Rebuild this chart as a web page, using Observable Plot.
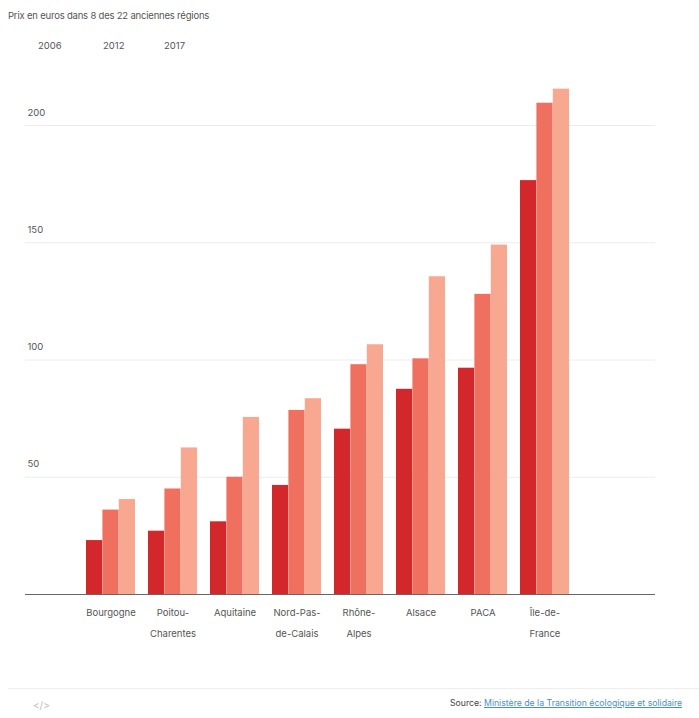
<!DOCTYPE html>
<html>
<head>
<meta charset="utf-8">
<script src="https://cdn.jsdelivr.net/npm/d3@7"></script>
<script src="https://cdn.jsdelivr.net/npm/@observablehq/plot@0.6"></script>
<style>
  body { margin: 0; background: #fff; font-family: "Inter", "Liberation Sans", sans-serif; width: 699px; overflow: hidden; }
  #title { position: absolute; left: 8px; top: 10px; font-size: 9.5px; color: #555; letter-spacing: -0.2px; }
  #legend { position: absolute; left: 0; top: 40px; font-size: 9.5px; color: #555; }
  #legend span { position: absolute; white-space: nowrap; }
  #chart { position: absolute; left: 0; top: 60px; }
  #footer-line { position: absolute; left: 8px; right: 0; top: 688px; height: 1px; background: #eee; }
  #code { position: absolute; left: 33px; top: 699px; font-size: 10px; color: #bbb; }
  #source { position: absolute; left: 450px; top: 698px; font-size: 8.7px; color: #444; white-space: nowrap; }
  #source a { color: #4a90c8; text-decoration: underline; }
</style>
</head>
<body>
<div id="title">Prix en euros dans 8 des 22 anciennes régions</div>
<div id="legend"></div>
<div id="chart"></div>
<div id="footer-line"></div>
<div id="code">&lt;/&gt;</div>
<div id="source">Source: <a href="#">Ministère de la Transition écologique et solidaire</a></div>
<script>
const regions = ["Bourgogne", "Poitou-Charentes", "Aquitaine", "Nord-Pas-de-Calais", "Rhône-Alpes", "Alsace", "PACA", "Île-de-France"];
const regionLabels = ["Bourgogne", "Poitou-\nCharentes", "Aquitaine", "Nord-Pas-\nde-Calais", "Rhône-\nAlpes", "Alsace", "PACA", "Île-de-\nFrance"];
const years = ["2006", "2012", "2017"];
const values2006 = [23, 27, 31, 46.5, 70.5, 87.5, 96.5, 176.5];
const values2012 = [36, 45, 50, 78.5, 98, 100.5, 128, 209.5];
const values2017 = [40.5, 62.5, 75.5, 83.5, 106.5, 135.5, 149, 215.5];
const yTicks = [50, 100, 150, 200];
const colors = ["#d2282c", "#f0705f", "#f8a890"];

const series = [values2006, values2012, values2017];
const data = [];
years.forEach((yr, j) => regions.forEach((r, i) => data.push({region: r, year: yr, value: series[j][i]})));

// legend (text only)
const legend = document.getElementById("legend");
const legendX = [38, 103, 164];
years.forEach((y, j) => {
  const s = document.createElement("span");
  s.textContent = y;
  s.style.left = legendX[j] + "px";
  legend.appendChild(s);
});

const barW = 16.4;
const barMarks = years.map((yr, j) => Plot.barY(data.filter(d => d.year === yr), {
  x: "region",
  y: "value",
  fill: colors[j],
  insetLeft: j * barW,
  insetRight: (2 - j) * barW
}));

const plot = Plot.plot({
  width: 699,
  height: 600,
  marginLeft: 25,
  marginRight: 44,
  marginTop: 0,
  marginBottom: 0,
  style: {fontFamily: "Inter, 'Liberation Sans', sans-serif", background: "transparent", color: "#555"},
  x: {type: "band", domain: regions, range: [84, 571], paddingInner: 0.215, paddingOuter: 0, axis: null},
  y: {domain: [0, 200], range: [534, 65], axis: null},
  marks: [
    Plot.ruleY(yTicks, {stroke: "#ececec", strokeWidth: 1}),
    Plot.text(yTicks, {y: d => d, text: d => String(d), frameAnchor: "left", dx: 2, dy: -13, textAnchor: "start", fontSize: 9.5, fill: "#555"}),
    ...barMarks,
    Plot.ruleY([0], {stroke: "#666", strokeWidth: 1}),
    Plot.text(regions, {x: d => d, y: 0, text: (d, i) => regionLabels[i], lineAnchor: "top", dy: 7, fontSize: 9.5, fill: "#555", lineHeight: 2.2})
  ]
});
document.getElementById("chart").appendChild(plot);
</script>
</body>
</html>
